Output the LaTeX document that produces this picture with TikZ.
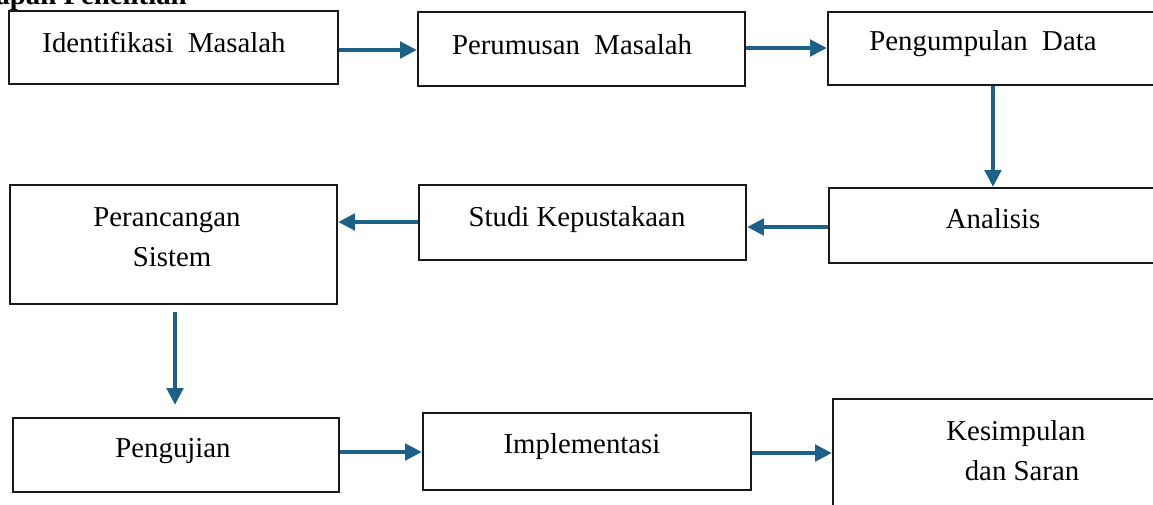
\documentclass[tikz,border=0pt]{standalone}
\usepackage{fontspec}
\setmainfont{Liberation Serif}
\usetikzlibrary{arrows.meta,fit}
\definecolor{arrowblue}{HTML}{1D6188}
\begin{document}
\begin{tikzpicture}[x=0.75pt,y=-0.75pt,
  box/.style={draw=black!90,line width=1.9pt,inner sep=0pt},
  lbl/.style={anchor=base,inner sep=0pt,font=\fontsize{21.6}{26}\selectfont},
  arr/.style={draw=arrowblue,line width=2.3pt,-{Triangle[length=12.5pt,width=12.5pt]}}]
\useasboundingbox (0,0) rectangle (1153,504);
% title (cut off at the top left)
\node[anchor=base east,inner sep=0pt,font=\fontsize{21.6}{26}\selectfont\bfseries] (title) at (187,4) {Tahapan Penelitian};
% boxes
\node[box,fit={(9,11) (338,84)}] (b1) {};
\node[box,fit={(418,12) (745,86)}] (b2) {};
\node[box,fit={(828,12) (1170,85)}] (b3) {};
\node[box,fit={(829,188) (1170,263)}] (b4) {};
\node[box,fit={(419,185) (746,260)}] (b5) {};
\node[box,fit={(10,185) (337,304)}] (b6) {};
\node[box,fit={(13,418) (339,492)}] (b7) {};
\node[box,fit={(423,413) (751,490)}] (b8) {};
\node[box,fit={(833,399) (1170,520)}] (b9) {};
% labels
\node[lbl] (t1) at (164,52) {Identifikasi\ \ Masalah};
\node[lbl] (t2) at (572,54) {Perumusan\ \ Masalah};
\node[lbl] (t3) at (983,50) {Pengumpulan\ \ Data};
\node[lbl] (t4) at (993,228) {Analisis};
\node[lbl] (t5) at (577,226) {Studi Kepustakaan};
\node[lbl] (t6a) at (167,226) {Perancangan};
\node[lbl] (t6b) at (172,266) {Sistem};
\node[lbl] (t7) at (173,457) {Pengujian};
\node[lbl] (t8) at (582,453) {Implementasi};
\node[lbl] (t9a) at (1016,440) {Kesimpulan};
\node[lbl] (t9b) at (1022,480) {dan Saran};
% connectors
\draw[arr] (b1.east |- 0,50) -- (b2.west |- 0,50);
\draw[arr] (b2.east |- 0,48) -- (b3.west |- 0,48);
\draw[arr] (b3.south -| 993,0) -- (b4.north -| 993,0);
\draw[arr] (b4.west |- 0,227) -- (b5.east |- 0,227);
\draw[arr] (b5.west |- 0,222) -- (b6.east |- 0,222);
\draw[arr,shorten <=5pt,shorten >=9pt] (b6.south -| 175,0) -- (b7.north -| 175,0);
\draw[arr] (b7.east |- 0,452) -- (b8.west |- 0,452);
\draw[arr] (b8.east |- 0,453) -- (b9.west |- 0,453);
\end{tikzpicture}
\end{document}
